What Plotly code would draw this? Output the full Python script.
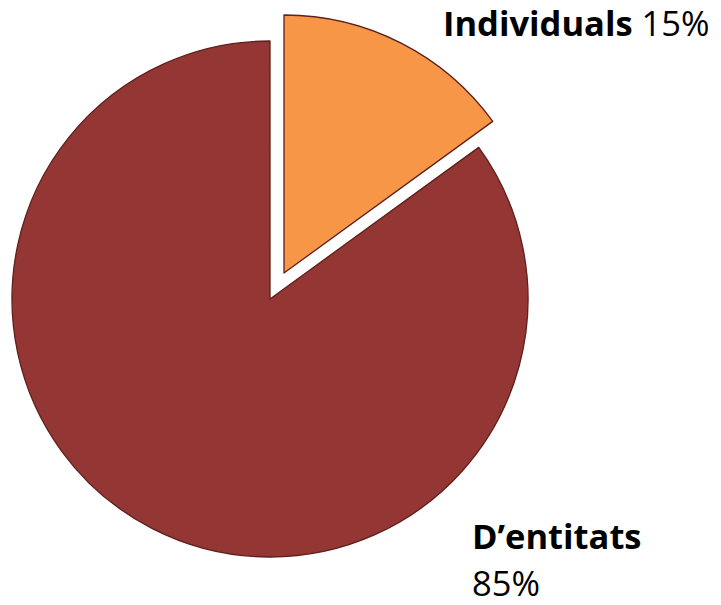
import plotly.graph_objects as go

# ---- data ----
labels = ["Individuals", "D’entitats"]
values = [15, 85]
colors = ["#F79646", "#943634"]

W, H = 721, 605
EDGE = "#5E1F1D"
FONT = "Open Sans, sans-serif"
FS = 34.5

def dom(cx, cy, r):
    return dict(x=[(cx - r) / W, (cx + r) / W], y=[1 - (cy + r) / H, 1 - (cy - r) / H])

cx, cy, r = 270, 299, 258
dx, dy = 14, -26  # offset of the exploded slice

common = dict(labels=labels, values=values, sort=False, direction="clockwise",
              rotation=0, textinfo="none", hoverinfo="label+percent", showlegend=False)

fig = go.Figure()
# main (unexploded) slice
fig.add_trace(go.Pie(**common, domain=dom(cx, cy, r),
                     marker=dict(colors=["rgba(0,0,0,0)", colors[1]],
                                 line=dict(color=EDGE, width=[0, 1.3]))))
# exploded slice
fig.add_trace(go.Pie(**common, domain=dom(cx + dx, cy + dy, r),
                     marker=dict(colors=[colors[0], "rgba(0,0,0,0)"],
                                 line=dict(color=EDGE, width=[1.3, 0]))))

total = sum(values)
pct = [f"{round(v / total * 100)}%" for v in values]

def txt(x, y, s):
    fig.add_annotation(x=x / W, y=1 - y / H, xref="paper", yref="paper",
                       xanchor="left", yanchor="middle", showarrow=False,
                       text=s, font=dict(family=FONT, size=FS, color="black"))

txt(441, 23, f"<b>{labels[0]}</b> {pct[0]}")
txt(470, 535, f"<b>{labels[1]}</b>")
txt(470, 582, pct[1])

fig.update_layout(width=W, height=H, margin=dict(l=0, r=0, t=0, b=0),
                  paper_bgcolor="white", plot_bgcolor="white")
fig.write_html("out.html", config={"displayModeBar": False},
               post_script="document.body.style.margin='0px';document.body.style.overflow='hidden';")
